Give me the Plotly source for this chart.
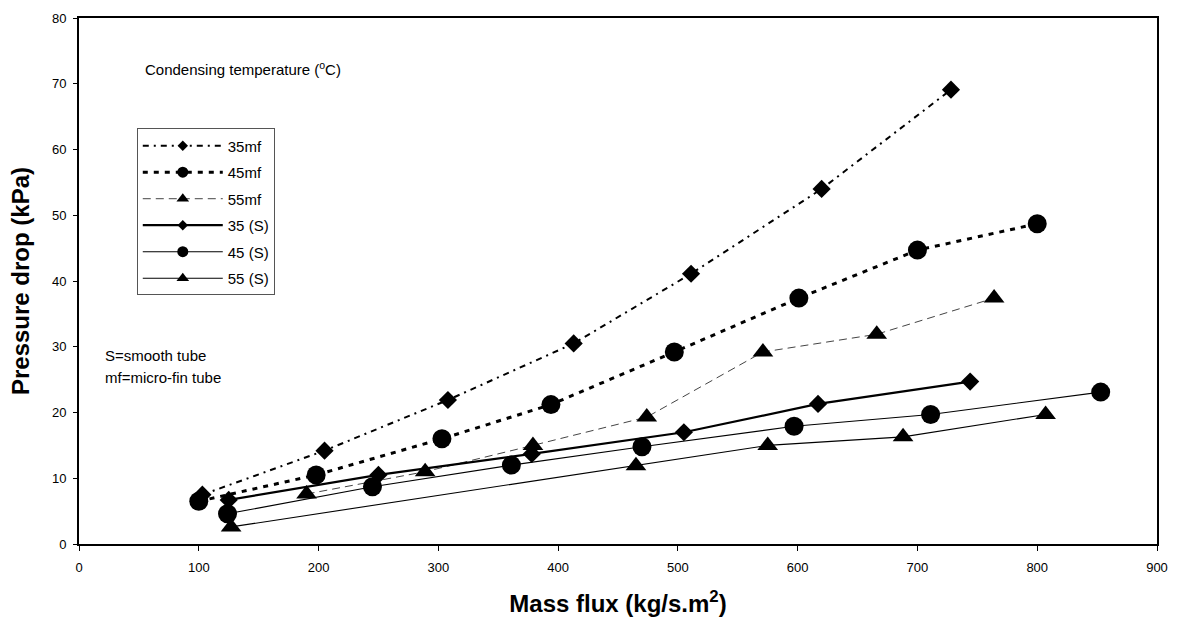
import plotly.graph_objects as go

# ---- data ----
x_35mf = [103, 205, 308, 413, 511, 620, 728]
y_35mf = [7.5, 14.2, 21.9, 30.5, 41.1, 54.0, 69.1]

x_45mf = [100, 198, 303, 394, 497, 601, 700, 800]
y_45mf = [6.5, 10.5, 16.0, 21.2, 29.2, 37.4, 44.7, 48.7]

x_55mf = [190, 289, 379, 474, 571, 666, 764]
y_55mf = [7.6, 11.0, 15.0, 19.3, 29.2, 31.9, 37.4]

x_35s = [125, 250, 378, 505, 617, 744]
y_35s = [6.7, 10.5, 13.7, 17.0, 21.3, 24.7]

x_45s = [124, 245, 361, 470, 597, 711, 853]
y_45s = [4.6, 8.7, 12.0, 14.8, 17.9, 19.7, 23.1]

x_55s = [127, 465, 575, 688, 807]
y_55s = [2.6, 11.9, 15.0, 16.3, 19.7]

x_ticks = [0, 100, 200, 300, 400, 500, 600, 700, 800, 900]
y_ticks = [0, 10, 20, 30, 40, 50, 60, 70, 80]

FONT = "Liberation Sans, Arial, sans-serif"

series = [
    ("35mf", x_35mf, y_35mf, "diamond", 14, dict(color="black", width=2, dash="6px,5px,2px,5px")),
    ("45mf", x_45mf, y_45mf, "circle", 19, dict(color="black", width=3, dash="5px,6px")),
    ("55mf", x_55mf, y_55mf, "triangle-up", 18, dict(color="#444444", width=1, dash="8px,5px")),
    ("35 (S)", x_35s, y_35s, "diamond", 14, dict(color="black", width=2.2)),
    ("45 (S)", x_45s, y_45s, "circle", 19, dict(color="black", width=1.1)),
    ("55 (S)", x_55s, y_55s, "triangle-up", 18, dict(color="black", width=1.1)),
]

fig = go.Figure()
for name, xs, ys, sym, size, line in series:
    fig.add_trace(go.Scatter(
        x=xs, y=ys, mode="lines+markers", name=name, showlegend=False,
        line=line, marker=dict(symbol=sym, size=size, color="black"),
    ))
# legend entries with smaller markers, as in the reference legend
for name, xs, ys, sym, size, line in series:
    fig.add_trace(go.Scatter(
        x=[None], y=[None], mode="lines+markers", name=name, showlegend=True,
        legendgroup=name,
        line=line, marker=dict(symbol=sym, size=11 if sym != "diamond" else 8, color="black"),
    ))

fig.update_layout(
    width=1179, height=626,
    margin=dict(l=79, r=18, t=11, b=82),
    paper_bgcolor="white", plot_bgcolor="white",
    font=dict(family=FONT, size=13, color="black"),
    showlegend=True,
    legend=dict(
        x=0.0536, y=0.79, xanchor="left", yanchor="top",
        bordercolor="#555555", borderwidth=1, bgcolor="white",
        font=dict(family=FONT, size=15), itemwidth=80,
        tracegroupgap=4, traceorder="grouped",
    ),
    xaxis=dict(
        range=[0, 900], tickvals=x_ticks, ticks="outside", ticklen=5,
        tickwidth=1, tickcolor="black", showline=True, linecolor="black",
        linewidth=2, mirror=True, showgrid=False, zeroline=False,
        tickfont=dict(size=13), ticklabelstandoff=5,
        title=dict(text="<b>Mass flux (kg/s.m<sup>2</sup>)</b>", font=dict(size=24), standoff=22),
    ),
    yaxis=dict(
        range=[0, 80], tickvals=y_ticks, ticks="outside", ticklen=4,
        tickwidth=1, tickcolor="black", showline=True, linecolor="black",
        linewidth=2, mirror=True, showgrid=False, zeroline=False,
        tickfont=dict(size=13), ticklabelstandoff=4,
        title=dict(text="<b>Pressure drop (kPa)</b>", font=dict(size=24), standoff=16),
    ),
    annotations=[
        dict(text="Condensing temperature (<sup>o</sup>C)", x=0.059, y=0.904,
             xref="paper", yref="paper", xanchor="left", yanchor="middle",
             showarrow=False, font=dict(size=15)),
        dict(text="S=smooth tube", x=0.022, y=0.358,
             xref="paper", yref="paper", xanchor="left", yanchor="middle",
             showarrow=False, font=dict(size=15)),
        dict(text="mf=micro-fin tube", x=0.022, y=0.317,
             xref="paper", yref="paper", xanchor="left", yanchor="middle",
             showarrow=False, font=dict(size=15)),
    ],
)

fig.write_html("out.html")
